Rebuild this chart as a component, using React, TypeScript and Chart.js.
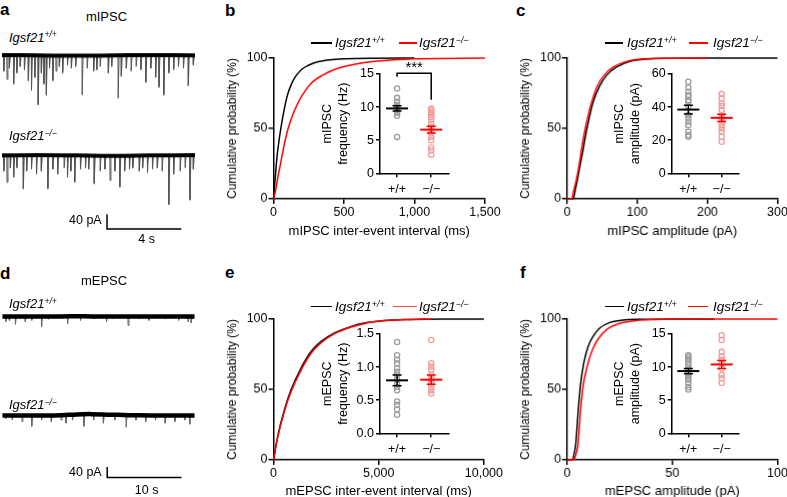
import React, { useEffect, useRef } from 'react';
import { Chart, registerables } from 'chart.js';

Chart.register(...registerables);

const FONT = "'Liberation Sans', Arial, Helvetica, sans-serif";
Chart.defaults.font.family = FONT;
Chart.defaults.color = '#000';

// ---------- labels ----------
const GROUPS = ['+/+', '\u2212/\u2212'];
const RED = '#ff0000';
const GRAY_PT = '#9d9d9d';
const PINK_PT = '#f49c9c';

// ---------- panel a : mIPSC traces (time s, amplitude pA) ----------
const aWtTimes = [0.09,0.26,0.39,0.62,0.79,0.97,1.20,1.41,1.58,1.76,1.94,2.11,2.25,2.38,2.55,2.73,2.90,3.08,3.26,3.52,3.73,3.96,4.31,4.58,4.93,5.10,5.28,5.72,5.90,6.25,6.42,6.69,6.95,7.22,7.48,7.74,8.01,8.27,8.45,8.71,8.98,9.24,9.50,9.77,10.03,10.30];
const aWtAmps = [44,67,36,80,49,31,40,71,98,62,138,49,80,111,36,71,44,31,49,27,36,31,111,36,44,40,31,49,31,120,58,36,44,31,40,76,36,62,89,111,49,40,31,36,85,27];
const aKoTimes = [0.09,0.26,0.44,0.62,0.79,1.14,1.32,1.58,1.85,2.11,2.46,2.73,2.99,3.34,3.52,3.70,3.91,4.22,4.49,4.66,4.96,5.28,5.54,5.81,6.07,6.34,6.60,6.86,7.04,7.39,7.57,7.83,8.10,8.36,8.62,8.98,9.24,9.59,9.86,10.12,10.30];
const aKoAmps = [43,74,34,60,34,92,43,38,52,43,92,38,52,34,60,43,74,38,34,38,78,43,38,69,43,87,43,38,34,43,34,47,38,34,43,136,52,43,34,123,38];
const aBaseT = [0, 2, 4, 6, 8, 10.4];
const aWtBase = [1, 0, -1, 0, 1, 0];
const aKoBase = [0, 1, 0, -1, 0, 1];
const aDuration = 10.4;
const aBarTime = [5.66, 9.66];
const aBarAmp = [-163, -203];

// ---------- panel d : mEPSC traces ----------
const dWtTimes = [0.44,0.88,1.75,2.41,3.07,3.94,5.26,6.13,8.76,10.5,12.3,14.0,14.9,16.9,18.4,19.7,21.9,23.7,25.0,25.4];
const dWtAmps = [24,18,36,12,24,18,48,12,33,18,12,24,12,42,12,18,12,18,24,30];
const dKoTimes = [0.44,1.31,2.63,3.94,5.26,6.57,7.88,8.54,9.42,10.95,12.26,13.58,15.11,16.64,17.96,19.27,20.59,21.9,23.21,24.53,25.2];
const dKoAmps = [12,18,24,42,18,24,18,30,18,42,18,30,18,46,18,24,18,30,24,18,34];
const dBaseT = [0, 5, 8, 10, 12, 14.5, 17, 20, 25.9];
const dWtBase = [0, 0, 0, 1, 0, 0, 0, 0, 0];
const dKoBase = [0, 0, 1, 4, 5, 3, 1, 0, 0];
const dDuration = 25.9;
const dBarTime = [14.12, 24.12];
const dBarAmp = [-200, -240];

// ---------- panel b : mIPSC inter-event interval (ms) ----------
const bWtX = [0, 10, 25, 40, 52, 75, 100, 125, 150, 200, 250, 300, 400, 500, 700, 1000];
const bWtY = [0, 12, 30, 42, 50, 63, 74, 81, 86, 92, 95, 97, 98.8, 99.5, 99.9, 100];
const bKoX = [0, 15, 30, 52, 75, 104, 150, 200, 264, 350, 450, 571, 700, 850, 1000, 1500];
const bKoY = [0, 6, 15, 26, 38, 50, 63, 73, 81.8, 88, 92.5, 95.5, 97.5, 98.8, 99.5, 100];
const bXTicks = [0, 500, 1000, 1500];
const bInsetWt = [12.8, 11.4, 10.8, 10.3, 10.1, 9.8, 9.6, 9.3, 9.1, 8.7, 5.5];
const bInsetKo = [9.8, 9.6, 9.3, 9.1, 8.8, 8.5, 8.1, 7.5, 7.0, 6.5, 6.0, 5.5, 5.0, 3.9, 3.5, 2.8];
const bMeans = [9.8, 6.6];
const bSems = [0.4, 0.5];
const bBracket = [14.6, 15.1, 11.1]; // left end, top, right end (Hz)

// ---------- panel c : mIPSC amplitude (pA) ----------
const cWtX = [0, 8.6, 12, 15.7, 19, 22.9, 26, 30, 37, 46.7, 56, 70.5, 89.5, 113, 150, 200, 300];
const cWtY = [0, 0, 7, 16, 25, 35, 44, 54, 68.5, 80.4, 87.6, 93.6, 97.6, 99.3, 99.8, 100, 100];
const cKoX = [0, 6.2, 10, 14.3, 17.5, 20.5, 24, 27.6, 34.8, 43.3, 52.4, 65.7, 84.8, 109, 140, 200];
const cKoY = [0, 0, 7, 16, 25, 35, 45, 54, 68.5, 80.4, 87.6, 93.6, 97.6, 99.4, 99.8, 100];
const cXTicks = [0, 100, 200, 300];
const cInsetWt = [55.3, 51.9, 49.3, 47.3, 46.3, 44.3, 43.3, 40.2, 35.2, 33.2, 31.2, 29.2, 25.2, 23.1, 22.1];
const cInsetKo = [47.9, 45.3, 42.3, 40.6, 38.2, 35.2, 33.2, 31.2, 29.2, 27.2, 25.2, 22.1, 19.1];
const cMeans = [38.5, 33.5];
const cSems = [2.6, 2.2];

// ---------- panel e : mEPSC inter-event interval (ms) ----------
const eWtX = [0, 190, 508, 825, 1302, 1778, 2254, 2889, 3683, 4476, 5270, 6500, 8000, 10000];
const eWtY = [0, 16, 35, 49.4, 65, 76.8, 84, 90, 94.7, 97.6, 99, 99.7, 100, 100];
const eKoX = [0, 190, 508, 825, 1302, 1778, 2254, 2889, 3683, 4476, 5270, 6500, 7500];
const eKoY = [0, 15.5, 34, 48, 63.5, 75.5, 83, 89.5, 94.3, 97.4, 98.9, 99.7, 100];
const eXTicks = [0, 5000, 10000];
const eInsetWt = [1.38, 1.18, 1.11, 1.06, 0.98, 0.93, 0.88, 0.81, 0.75, 0.70, 0.65, 0.48, 0.43, 0.36, 0.28];
const eInsetKo = [1.41, 1.06, 1.01, 0.96, 0.88, 0.83, 0.78, 0.75, 0.70, 0.65, 0.60];
const eMeans = [0.80, 0.81];
const eSems = [0.08, 0.07];

// ---------- panel f : mEPSC amplitude (pA) ----------
const fWtX = [0, 2.5, 3.3, 4.1, 5.2, 6.3, 7.9, 9.96, 12.3, 15.5, 20.3, 26.6, 35, 50, 70];
const fWtY = [0, 0, 4, 11, 33, 52, 68.5, 80.4, 87.6, 93.6, 97.6, 99.3, 99.8, 100, 100];
const fKoX = [0, 3.2, 4.2, 5.2, 6.3, 7.6, 9.5, 12, 14.7, 18.7, 25, 32.9, 42, 60, 100];
const fKoY = [0, 0, 4, 11, 33, 52, 66, 78, 85.7, 92.4, 97, 99, 99.7, 100, 100];
const fXTicks = [0, 50, 100];
const fInsetWt = [11.8, 11.6, 11.3, 11.1, 10.7, 10.3, 9.8, 9.4, 9.1, 8.6, 8.3, 8.1, 7.6, 7.0, 6.6];
const fInsetKo = [14.8, 14.1, 12.3, 11.6, 11.1, 10.6, 9.8, 8.8, 8.3, 7.6];
const fMeans = [9.4, 10.4];
const fSems = [0.4, 0.6];

const Y_TICKS_MAIN = [0, 50, 100];

// ---------- helpers ----------
type Box = { left: number; top: number; width: number; height: number };

function ChartBox({ box, make }: { box: Box; make: () => any }) {
  const ref = useRef<HTMLCanvasElement>(null);
  useEffect(() => {
    const chart = new Chart(ref.current as HTMLCanvasElement, make());
    return () => chart.destroy();
  }, []);
  return (
    <div style={{ position: 'absolute', left: box.left, top: box.top, width: box.width, height: box.height }}>
      <canvas ref={ref} />
    </div>
  );
}

const baseOptions = {
  animation: false,
  responsive: true,
  maintainAspectRatio: false,
  devicePixelRatio: 1,
  events: [],
  plugins: { legend: { display: false }, tooltip: { enabled: false } },
};

function spikes(times: number[], amps: number[], rise: number, decay: number) {
  const pts: { x: number; y: number | null }[] = [];
  times.forEach((t, i) => {
    pts.push({ x: t, y: 0 }, { x: t + rise, y: -amps[i] }, { x: t + rise + decay, y: 0 }, { x: t + rise + decay, y: null });
  });
  return pts;
}

function traceConfig(o: {
  baseT: number[]; baseY: number[]; times: number[]; amps: number[]; tMax: number;
  yMin: number; yMax: number; rise: number; decay: number; width: number; spikeColor: string;
  barT?: number[]; barA?: number[];
}) {
  const datasets: any[] = [
    { data: o.baseT.map((t, i) => ({ x: t, y: o.baseY[i] })), borderColor: '#000', borderWidth: o.width, pointRadius: 0, tension: 0.4 },
    { data: spikes(o.times, o.amps, o.rise, o.decay), borderColor: o.spikeColor, borderWidth: 1, pointRadius: 0, spanGaps: false },
  ];
  if (o.barT && o.barA) {
    datasets.push({
      data: [
        { x: o.barT[0], y: o.barA[0] },
        { x: o.barT[0], y: o.barA[1] },
        { x: o.barT[1], y: o.barA[1] },
      ],
      borderColor: '#000', borderWidth: 1.5, pointRadius: 0, tension: 0,
    });
  }
  return {
    type: 'line',
    data: { datasets },
    options: {
      ...baseOptions,
      layout: { padding: 0 },
      scales: {
        x: { type: 'linear', display: false, min: 0, max: o.tMax },
        y: { type: 'linear', display: false, min: o.yMin, max: o.yMax },
      },
    },
  };
}

const axisCommon = {
  grid: { display: true, drawOnChartArea: false, drawTicks: true, tickLength: 5, color: '#000', lineWidth: 1.5 },
  border: { display: true, color: '#000', width: 1.5 },
};

function fmtThousands(v: number) {
  return Number(v).toLocaleString('en-US');
}

function cumConfig(o: {
  wtX: number[]; wtY: number[]; koX: number[]; koY: number[]; xTicks: number[]; xTitle: string;
  yAxisW: number; xAxisH: number; padTop: number; padRight: number;
}) {
  const xMax = o.xTicks[o.xTicks.length - 1];
  return {
    type: 'line',
    data: {
      datasets: [
        { data: o.koX.map((x, i) => ({ x, y: o.koY[i] })), borderColor: RED, borderWidth: 1.5, pointRadius: 0, cubicInterpolationMode: 'monotone', clip: false },
        { data: o.wtX.map((x, i) => ({ x, y: o.wtY[i] })), borderColor: '#000', borderWidth: 1.5, pointRadius: 0, cubicInterpolationMode: 'monotone', clip: false },
      ],
    },
    options: {
      ...baseOptions,
      layout: { padding: { top: o.padTop, right: o.padRight, left: 0, bottom: 0 } },
      scales: {
        x: {
          type: 'linear', min: 0, max: xMax,
          afterBuildTicks: (s: any) => { s.ticks = o.xTicks.map((v) => ({ value: v })); },
          ticks: { font: { size: 12.5 }, color: '#000', padding: 1, maxRotation: 0, autoSkip: false, callback: (v: any) => fmtThousands(v) },
          ...axisCommon,
          title: { display: true, text: o.xTitle, font: { size: 13 }, color: '#000', padding: 0 },
          afterFit: (s: any) => { s.height = o.xAxisH; },
        },
        y: {
          type: 'linear', min: 0, max: 100,
          afterBuildTicks: (s: any) => { s.ticks = Y_TICKS_MAIN.map((v) => ({ value: v })); },
          ticks: { font: { size: 12.5 }, color: '#000', padding: 1 },
          ...axisCommon,
          title: { display: true, text: 'Cumulative probability (%)', font: { size: 12 }, color: '#000', padding: 0 },
          afterFit: (s: any) => { s.width = o.yAxisW; },
        },
      },
    },
  };
}

function insetConfig(o: {
  wt: number[]; ko: number[]; means: number[]; sems: number[]; yMax: number; yStep: number;
  title: string[]; decimals: number; yAxisW: number; xAxisH: number; padTop: number; padRight: number;
  bracket?: number[];
}) {
  const yTicks: number[] = [];
  for (let v = 0; v <= o.yMax + 1e-9; v += o.yStep) yTicks.push(Math.round(v * 1000) / 1000);
  const meanPlugin = {
    id: 'meanSem',
    afterDatasetsDraw(chart: any) {
      const { ctx, scales } = chart;
      const x = scales.x, y = scales.y;
      o.means.forEach((m: number, i: number) => {
        const cx = x.getPixelForValue(i);
        const ym = y.getPixelForValue(m);
        const yt = y.getPixelForValue(m + o.sems[i]);
        const yb = y.getPixelForValue(m - o.sems[i]);
        ctx.save();
        ctx.strokeStyle = i === 0 ? '#000' : RED;
        ctx.lineWidth = 2;
        ctx.beginPath();
        ctx.moveTo(cx - 11, ym); ctx.lineTo(cx + 11, ym);
        ctx.stroke();
        ctx.lineWidth = 1.5;
        ctx.beginPath();
        ctx.moveTo(cx, yt); ctx.lineTo(cx, yb);
        ctx.moveTo(cx - 4.5, yt); ctx.lineTo(cx + 4.5, yt);
        ctx.moveTo(cx - 4.5, yb); ctx.lineTo(cx + 4.5, yb);
        ctx.stroke();
        ctx.restore();
      });
      if (o.bracket) {
        const [l, t, r] = o.bracket;
        const x0 = x.getPixelForValue(0), x1 = x.getPixelForValue(1);
        const yt = y.getPixelForValue(t);
        ctx.save();
        ctx.strokeStyle = '#000';
        ctx.lineWidth = 1.5;
        ctx.beginPath();
        ctx.moveTo(x0, y.getPixelForValue(l));
        ctx.lineTo(x0, yt);
        ctx.lineTo(x1, yt);
        ctx.lineTo(x1, y.getPixelForValue(r));
        ctx.stroke();
        ctx.fillStyle = '#000';
        ctx.font = `15px ${FONT}`;
        ctx.textAlign = 'center';
        ctx.textBaseline = 'middle';
        ctx.fillText('***', (x0 + x1) / 2, yt - 5.5);
        ctx.restore();
      }
    },
  };
  const pt = (arr: number[], idx: number) => arr.map((v) => ({ x: idx, y: v }));
  return {
    type: 'scatter',
    data: {
      datasets: [
        { data: pt(o.wt, 0), borderColor: GRAY_PT, backgroundColor: 'rgba(0,0,0,0)', pointRadius: 2.6, borderWidth: 1.3, clip: false },
        { data: pt(o.ko, 1), borderColor: PINK_PT, backgroundColor: 'rgba(0,0,0,0)', pointRadius: 2.6, borderWidth: 1.3, clip: false },
      ],
    },
    plugins: [meanPlugin],
    options: {
      ...baseOptions,
      layout: { padding: { top: o.padTop, right: o.padRight, left: 0, bottom: 0 } },
      scales: {
        x: {
          type: 'linear', min: -0.5, max: 1.5,
          afterBuildTicks: (s: any) => { s.ticks = [{ value: 0 }, { value: 1 }]; },
          ticks: { font: { size: 12.5 }, color: '#000', padding: 5, maxRotation: 0, autoSkip: false, callback: (v: any) => GROUPS[Math.round(v)] ?? '' },
          grid: { display: true, drawOnChartArea: false, drawTicks: true, tickLength: 4, color: '#000', lineWidth: 1.5 },
          border: { display: true, color: '#000', width: 1.5 },
          afterFit: (s: any) => { s.height = o.xAxisH; },
        },
        y: {
          type: 'linear', min: 0, max: o.yMax,
          afterBuildTicks: (s: any) => { s.ticks = yTicks.map((v) => ({ value: v })); },
          ticks: { font: { size: 12.5 }, color: '#000', padding: 2, callback: (v: any) => Number(v).toFixed(o.decimals) },
          grid: { display: true, drawOnChartArea: false, drawTicks: true, tickLength: 4, color: '#000', lineWidth: 1.5 },
          border: { display: true, color: '#000', width: 1.5 },
          title: { display: true, text: o.title, font: { size: 12.5, lineHeight: 1.28 }, color: '#000', padding: 0 },
          afterFit: (s: any) => { s.width = o.yAxisW; },
        },
      },
    },
  };
}

// ---------- text helpers ----------
function Txt({ x, base, size, align = 'left', bold = false, italic = false, children }: any) {
  const tx = align === 'center' ? 'translateX(-50%)' : align === 'right' ? 'translateX(-100%)' : 'none';
  return (
    <div
      style={{
        position: 'absolute', left: x, top: base - 0.8465 * size, fontSize: size, lineHeight: 1,
        whiteSpace: 'nowrap', transform: tx, fontWeight: bold ? 'bold' : 'normal',
        fontStyle: italic ? 'italic' : 'normal',
      }}
    >
      {children}
    </div>
  );
}

function Gene({ sup }: { sup: string }) {
  return (
    <span style={{ fontStyle: 'italic' }}>
      Igsf21
      <span style={{ fontSize: '0.66em', position: 'relative', top: '-0.5em' }}>{sup}</span>
    </span>
  );
}

function LegendRow({ y, blackLine, blackText, redLine, redText, redColor }: any) {
  return (
    <>
      <div style={{ position: 'absolute', left: blackLine[0], top: y - 0.75, width: blackLine[1] - blackLine[0], height: 1.5, background: '#000' }} />
      <Txt x={blackText} base={y + 4.8} size={13.5}><Gene sup={GROUPS[0]} /></Txt>
      <div style={{ position: 'absolute', left: redLine[0], top: y - 0.75, width: redLine[1] - redLine[0], height: 1.5, background: redColor }} />
      <Txt x={redText} base={y + 4.8} size={13.5}><Gene sup={GROUPS[1]} /></Txt>
    </>
  );
}

// ---------- layout boxes ----------
const A_PX = 40 / 15; // pA per px
const D_PX = 40 / 11;
const aWtBox = { left: 0, top: 53.3 - 15 / A_PX, width: 197, height: 165 / A_PX };
const aKoBox = { left: 0, top: 154 - 15 / A_PX, width: 197, height: 225 / A_PX };
const dWtBox = { left: 0, top: 315 - 15 / D_PX, width: 197, height: 75 / D_PX };
const dKoBox = { left: 0, top: 413.3 - 20 / D_PX, width: 197, height: 270 / D_PX };

export default function App() {
  return (
    <div style={{ position: 'fixed', left: 0, top: 0, width: 787, height: 497, overflow: 'hidden', background: '#fff', fontFamily: FONT, color: '#000' }}>
      {/* traces */}
      <ChartBox box={aWtBox} make={() => traceConfig({ baseT: aBaseT, baseY: aWtBase, times: aWtTimes, amps: aWtAmps, tMax: aDuration, yMin: -150, yMax: 15, rise: 0.01, decay: 0.05, width: 4, spikeColor: '#555555' })} />
      <ChartBox box={aKoBox} make={() => traceConfig({ baseT: aBaseT, baseY: aKoBase, times: aKoTimes, amps: aKoAmps, tMax: aDuration, yMin: -210, yMax: 15, rise: 0.01, decay: 0.05, width: 4, spikeColor: '#555555', barT: aBarTime, barA: aBarAmp })} />
      <ChartBox box={dWtBox} make={() => traceConfig({ baseT: dBaseT, baseY: dWtBase, times: dWtTimes, amps: dWtAmps, tMax: dDuration, yMin: -60, yMax: 15, rise: 0.03, decay: 0.12, width: 4.5, spikeColor: '#666666' })} />
      <ChartBox box={dKoBox} make={() => traceConfig({ baseT: dBaseT, baseY: dKoBase, times: dKoTimes, amps: dKoAmps, tMax: dDuration, yMin: -250, yMax: 20, rise: 0.03, decay: 0.12, width: 4.5, spikeColor: '#666666', barT: dBarTime, barA: dBarAmp })} />

      {/* cumulative plots */}
      <ChartBox box={{ left: 225, top: 48, width: 278, height: 189.8 }} make={() => cumConfig({ wtX: bWtX, wtY: bWtY, koX: bKoX, koY: bKoY, xTicks: bXTicks, xTitle: 'mIPSC inter-event interval (ms)', yAxisW: 48.5, xAxisH: 39.8, padTop: 10, padRight: 18 })} />
      <ChartBox box={{ left: 517.8, top: 48, width: 269.9, height: 189.8 }} make={() => cumConfig({ wtX: cWtX, wtY: cWtY, koX: cKoX, koY: cKoY, xTicks: cXTicks, xTitle: 'mIPSC amplitude (pA)', yAxisW: 48.9, xAxisH: 39.8, padTop: 10, padRight: 11 })} />
      <ChartBox box={{ left: 225, top: 309, width: 279, height: 188.8 }} make={() => cumConfig({ wtX: eWtX, wtY: eWtY, koX: eKoX, koY: eKoY, xTicks: eXTicks, xTitle: 'mEPSC inter-event interval (ms)', yAxisW: 48.5, xAxisH: 38.8, padTop: 10, padRight: 19.7 })} />
      <ChartBox box={{ left: 517.8, top: 309, width: 269.9, height: 188.8 }} make={() => cumConfig({ wtX: fWtX, wtY: fWtY, koX: fKoX, koY: fKoY, xTicks: fXTicks, xTitle: 'mEPSC amplitude (pA)', yAxisW: 48.9, xAxisH: 38.8, padTop: 10, padRight: 11 })} />

      {/* insets */}
      <ChartBox box={{ left: 320, top: 60, width: 134.3, height: 138.3 }} make={() => insetConfig({ wt: bInsetWt, ko: bInsetKo, means: bMeans, sems: bSems, yMax: 15, yStep: 5, title: ['mIPSC', 'frequency (Hz)'], decimals: 0, yAxisW: 60, xAxisH: 25, padTop: 14, padRight: 6, bracket: bBracket })} />
      <ChartBox box={{ left: 612, top: 60, width: 132.3, height: 138.3 }} make={() => insetConfig({ wt: cInsetWt, ko: cInsetKo, means: cMeans, sems: cSems, yMax: 60, yStep: 20, title: ['mIPSC', 'amplitude (pA)'], decimals: 0, yAxisW: 59.7, xAxisH: 25, padTop: 14, padRight: 6 })} />
      <ChartBox box={{ left: 320, top: 320, width: 134.3, height: 138.3 }} make={() => insetConfig({ wt: eInsetWt, ko: eInsetKo, means: eMeans, sems: eSems, yMax: 1.5, yStep: 0.5, title: ['mEPSC', 'frequency (Hz)'], decimals: 1, yAxisW: 60, xAxisH: 25, padTop: 14, padRight: 6 })} />
      <ChartBox box={{ left: 612, top: 320, width: 132.3, height: 138.3 }} make={() => insetConfig({ wt: fInsetWt, ko: fInsetKo, means: fMeans, sems: fSems, yMax: 15, yStep: 5, title: ['mEPSC', 'amplitude (pA)'], decimals: 0, yAxisW: 59.7, xAxisH: 25, padTop: 14, padRight: 6 })} />

      {/* panel letters */}
      <Txt x={0} base={15} size={17} bold>a</Txt>
      <Txt x={225} base={16} size={17} bold>b</Txt>
      <Txt x={516} base={16} size={17} bold>c</Txt>
      <Txt x={0} base={279} size={17} bold>d</Txt>
      <Txt x={225} base={278} size={17} bold>e</Txt>
      <Txt x={520} base={278} size={17} bold>f</Txt>

      {/* trace annotations */}
      <Txt x={106.5} base={20.7} size={13} align="center">mIPSC</Txt>
      <Txt x={9} base={41.7} size={13}><Gene sup={GROUPS[0]} /></Txt>
      <Txt x={9} base={140} size={13}><Gene sup={GROUPS[1]} /></Txt>
      <Txt x={101.7} base={225} size={12.5} align="right">40 pA</Txt>
      <Txt x={146.7} base={243.3} size={12.5} align="center">4 s</Txt>

      <Txt x={104} base={285} size={13} align="center">mEPSC</Txt>
      <Txt x={9} base={308.3} size={13}><Gene sup={GROUPS[0]} /></Txt>
      <Txt x={9} base={409} size={13}><Gene sup={GROUPS[1]} /></Txt>
      <Txt x={101.7} base={476.7} size={12.5} align="right">40 pA</Txt>
      <Txt x={146.7} base={495} size={12.5} align="center">10 s</Txt>

      {/* legends */}
      <LegendRow y={43} blackLine={[311, 332]} blackText={335} redLine={[399, 417]} redText={419} redColor={RED} />
      <LegendRow y={43} blackLine={[605, 623]} blackText={627} redLine={[689, 708]} redText={713} redColor={RED} />
      <LegendRow y={306.7} blackLine={[311, 332]} blackText={335} redLine={[393, 417]} redText={419} redColor={'#ff4a4a'} />
      <LegendRow y={306.7} blackLine={[605, 624]} blackText={627} redLine={[688, 708]} redText={713} redColor={RED} />
    </div>
  );
}
